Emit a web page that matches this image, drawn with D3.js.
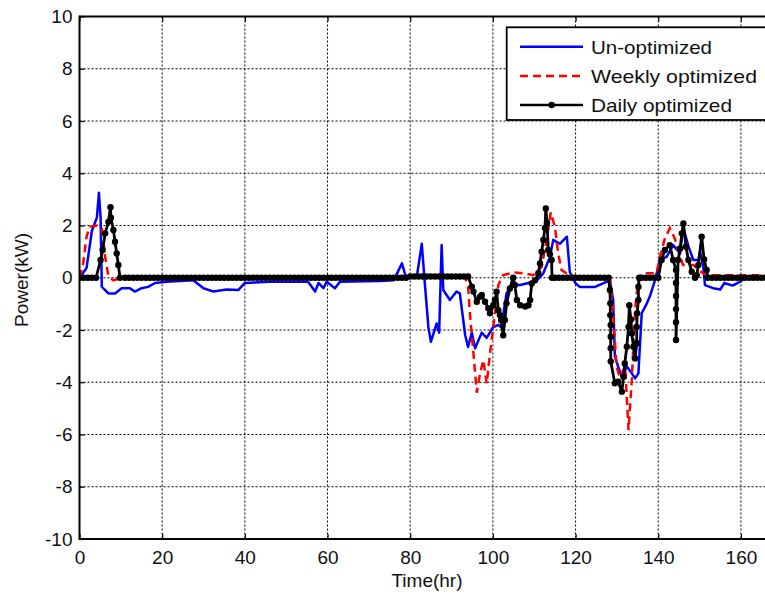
<!DOCTYPE html>
<html lang="en">
<head>
<meta charset="UTF-8">
<title>Power vs Time</title>
<script src="https://d3js.org/d3.v7.min.js"></script>
<style>
  body { margin: 0; background: #fff; }
  svg { display: block; font-family: "Liberation Sans", Arial, sans-serif; }
  .tick text { font-size: 19px; fill: #111; }
  .grid line { stroke: #000; stroke-width: 1; stroke-dasharray: 2,2; }
</style>
</head>
<body>
<svg id="chart" width="765" height="594"></svg>
<script>
// axis ticks
const xTicks = [0, 20, 40, 60, 80, 100, 120, 140, 160];
const yTicks = [-10, -8, -6, -4, -2, 0, 2, 4, 6, 8, 10];

// series names
const seriesNames = ["Un-optimized", "Weekly optimized", "Daily optimized"];

// Un-optimized: [hour, kW]
const unoptimized = [
  [0,0],[1.7,0.37],[3,1.8],[4.2,2.3],[4.7,3.25],[5.1,2.3],[5.4,-0.35],[7,-0.6],[8.6,-0.6],
  [10.2,-0.4],[12.2,-0.4],[13.4,-0.53],[15,-0.4],[16.6,-0.35],[18.3,-0.2],[21,-0.15],[27.5,-0.1],
  [30,-0.4],[32.4,-0.53],[35.6,-0.45],[38.4,-0.47],[40,-0.2],[46,-0.15],[55.3,-0.15],[57,-0.53],
  [57.8,-0.2],[59,-0.4],[59.8,-0.15],[61.8,-0.4],[63,-0.15],[72.7,-0.12],[76,-0.1],[78,0.55],
  [79,0],[81.6,0.05],[82.8,1.3],[83.6,-0.35],[84.4,-1.9],[85,-2.45],[86.4,-1.75],[87,-2.1],
  [87.6,1.25],[88,-0.47],[89.6,-0.85],[91.2,-0.53],[92,-0.6],[93.3,-2.2],[94,-2.65],[94.9,-2.1],
  [95.7,-2.7],[97.3,-2.1],[98.5,-2.3],[100,-1.9],[101.3,-1.8],[102,-1.9],[103.3,-0.6],[104.5,-0.28],
  [106.6,-0.28],[108.6,-0.2],[110.6,-0.1],[112.2,0.17],[113.8,0.8],[114.6,1.45],[116.2,1.3],
  [117.9,1.57],[118.6,0.22],[119.9,-0.2],[121,-0.35],[124.7,-0.35],[128.3,-0.1],[129.1,-0.85],
  [129.5,-3.0],[130.3,-3.4],[131.2,-3.8],[132.4,-3.4],[133.6,-3.66],[134.4,-3.85],[135.2,-3.66],
  [136,-1.36],[137.2,-1.0],[138,-0.7],[139.2,-0.1],[140.4,0.68],[142,0.8],[143.6,1.25],[145.3,0.93],
  [146,1.95],[147.3,1.2],[148.5,0.68],[149.7,0.68],[150.1,1.0],[150.9,0.42],[151.3,-0.28],
  [153.3,-0.4],[155,-0.45],[156,-0.2],[158,-0.3],[159.8,-0.15],[161.4,0.05],[168,0.05]
];

// Weekly optimized: [hour, kW]
const weekly = [
  [0,0],[0.9,0.55],[1.7,1.57],[2.5,1.95],[4.2,2.0],[5.4,1.9],[6.2,0.8],[7,0.05],[8.2,-0.1],[10,0],
  [93.3,0],[94,-0.35],[94.5,-1.5],[95.3,-2.9],[96.1,-4.4],[96.9,-3.66],[97.7,-3.15],[98.5,-4.05],
  [99.3,-2.9],[100.5,-1.36],[101.3,-0.28],[102.5,0.1],[105,0.2],[107.4,0.17],[109.8,0.1],
  [111.8,0.42],[113,1.45],[114,2.5],[115,1.95],[115.8,0.93],[116.6,0.3],[117.8,0.17],[120,0.05],
  [128.3,0.05],[129.1,-1.36],[129.9,-3.4],[130.7,-3.8],[132,-3.4],[132.8,-5.83],[133.6,-3.9],
  [134.4,-1.24],[135.2,0.05],[137.2,0.17],[139.6,0.17],[140.4,0.8],[141.6,1.5],[142.8,1.9],
  [144,1.5],[145.3,0.8],[146,0.49],[148.5,0.49],[149.7,0.3],[150.9,0.17],[153,0.1],[168,0.1]
];

// Daily optimized: [hour, kW]
const daily = [
  [0,0],[1,0],[2,0],[3,0],[4,0],[5.1,0.68],[5.6,1.06],[6.2,1.7],[7,2.14],[7.5,2.7],[7.6,2.3],
  [8.2,1.83],[8.6,1.38],[9,0.93],[9.4,0.49],[9.8,0],
  [11,0],[12,0],[13,0],[14,0],[15,0],[16,0],[17,0],[18,0],[19,0],[20,0],[21,0],[22,0],[23,0],
  [24,0],[25,0],[26,0],[27,0],[28,0],[29,0],[30,0],[31,0],[32,0],[33,0],[34,0],[35,0],[36,0],
  [37,0],[38,0],[39,0],[40,0],[41,0],[42,0],[43,0],[44,0],[45,0],[46,0],[47,0],[48,0],[49,0],
  [50,0],[51,0],[52,0],[53,0],[54,0],[55,0],[56,0],[57,0],[58,0],[59,0],[60,0],[61,0],[62,0],
  [63,0],[64,0],[65,0],[66,0],[67,0],[68,0],[69,0],[70,0],[71,0],[72,0],[73,0],[74,0],[75,0],
  [76,0],[77,0],[78,0],[79,0],[80,0.05],[81,0.05],[82,0.05],[83,0.05],[84,0.05],[85,0.05],
  [86,0.05],[87,0.05],[88,0.05],[89,0.05],[90,0.05],[91,0.05],[92,0.05],[93,0.05],[94,0.05],
  [94.9,-0.34],[95.3,-0.53],[96.1,-0.92],[96.9,-0.73],[97.3,-0.66],[98.1,-0.92],[98.9,-1.17],
  [99.3,-1.36],[100.1,-1.05],[100.5,-0.85],[100.9,-0.53],[101.3,-1.24],[101.7,-1.43],[102,-1.62],
  [102.5,-2.2],[102.9,-1.62],[103.3,-0.98],[104.1,-0.41],[104.9,0],[105.3,-0.28],[105.8,-0.85],
  [106.6,-1.05],[107.8,-1.1],[108.6,-1.05],[109,-0.85],[109.4,-0.22],[110.2,-0.1],[111,0.17],
  [111.4,0.55],[111.8,1.0],[112.2,1.45],[112.6,1.9],[112.8,2.65],[113.1,2.1],[113.4,1.06],
  [113.8,0.9],[114.2,0.68],[114.3,0],[115,0],[116,0],[117,0],[118,0],[119,0],[120,0],[121,0],
  [122,0],[123,0],[124,0],[125,0],[126,0],[127,0],[128,0],
  [128.3,-0.47],[128.4,-0.98],[128.4,-1.43],[128.5,-1.81],[128.5,-2.26],[128.5,-2.7],[128.5,-3.2],
  [129.5,-4.04],[130.3,-3.98],[131.2,-4.36],[131.6,-3.79],[131.9,-3.28],[132.4,-2.64],[132.8,-1.88],
  [133,-1.05],[133.4,-1.6],[133.6,-2.13],[134,-2.64],[134.4,-3.09],[134.8,-2.51],[134.8,-1.88],
  [134.9,-1.36],[135.2,-0.85],[135.2,-0.34],[135.4,0],[136,0],[137,0],[138,0],[139,0],[140,0],
  [140.8,0.68],[141.6,1.06],[142.8,1.25],[143.6,0.68],[144.3,0.3],[144.3,-0.2],[144.3,-0.7],
  [144.3,-1.2],[144.3,-1.7],[144.3,-2.38],[144.8,0.68],[145.3,1.12],[145.7,1.7],[146.1,2.08],
  [146.7,1.19],[147.3,0.68],[148.1,0.23],[148.9,0],[149.3,0.1],[149.7,0.49],[150.5,1.57],
  [151.1,0.7],[151.7,0.3],[152,0],[153,0],[154,0],[155,0],[156,0],[157,0],[158,0],[159,0],
  [160,0],[161,0],[162,0],[163,0],[164,0],[165,0],[166,0],[167,0]
];

const svg = d3.select("#chart");
const padL = 79.5, padT = 16.5, padB = 539, padR = 774;

const x = d3.scaleLinear().domain([0, 168]).range([padL, padR]);
const y = d3.scaleLinear().domain([-10, 10]).range([padB, padT]);

// grid
svg.append("g").attr("class", "grid")
  .selectAll("line").data(xTicks.filter(d => d > 0)).join("line")
  .attr("x1", d => x(d)).attr("x2", d => x(d))
  .attr("y1", padT).attr("y2", padB);
svg.append("g").attr("class", "grid")
  .selectAll("line").data(yTicks.filter(d => d > -10 && d < 10)).join("line")
  .attr("x1", padL).attr("x2", padR)
  .attr("y1", d => y(d)).attr("y2", d => y(d));

// clip for data
svg.append("clipPath").attr("id", "plotclip")
  .append("rect").attr("x", padL).attr("y", padT)
  .attr("width", padR - padL).attr("height", padB - padT);

const line = d3.line().x(d => x(d[0])).y(d => y(d[1]));
const plot = svg.append("g").attr("clip-path", "url(#plotclip)");

plot.append("path").datum(unoptimized)
  .attr("d", line).attr("fill", "none")
  .attr("stroke", "#0000ff").attr("stroke-width", 2.5).attr("stroke-linejoin", "round");

plot.append("path").datum(weekly)
  .attr("d", line).attr("fill", "none")
  .attr("stroke", "#ff0000").attr("stroke-width", 2.5)
  .attr("stroke-dasharray", "8,5");

plot.append("path").datum(daily)
  .attr("d", line).attr("fill", "none")
  .attr("stroke", "#000").attr("stroke-width", 2.8).attr("stroke-linejoin", "round");

plot.selectAll("circle").data(daily).join("circle")
  .attr("cx", d => x(d[0])).attr("cy", d => y(d[1]))
  .attr("r", 3.2).attr("fill", "#000");

// axes
const fmt = d => String(d);
const xAxis = svg.append("g").attr("transform", `translate(0,${padB})`)
  .call(d3.axisBottom(x).tickValues(xTicks).tickSize(-5).tickPadding(12).tickFormat(fmt));
const yAxis = svg.append("g").attr("transform", `translate(${padL},0)`)
  .call(d3.axisLeft(y).tickValues(yTicks).tickSize(-5).tickPadding(7).tickFormat(fmt));
const topAxis = svg.append("g").attr("transform", `translate(0,${padT})`)
  .call(d3.axisTop(x).tickValues(xTicks).tickSize(-5).tickFormat(""));

[xAxis, yAxis, topAxis].forEach(g => {
  g.select(".domain").remove();
  g.selectAll(".tick line").attr("stroke", "#000").attr("stroke-width", 1.2);
});

// frame lines
svg.append("line").attr("x1", padL).attr("x2", padL).attr("y1", padT - 1).attr("y2", padB + 1)
  .attr("stroke", "#000").attr("stroke-width", 2);
svg.append("line").attr("x1", padL).attr("x2", 765).attr("y1", padB).attr("y2", padB)
  .attr("stroke", "#000").attr("stroke-width", 2);
svg.append("line").attr("x1", padL).attr("x2", 765).attr("y1", padT).attr("y2", padT)
  .attr("stroke", "#000").attr("stroke-width", 2);

// axis labels
svg.append("text").attr("x", 427).attr("y", 587)
  .attr("text-anchor", "middle").attr("font-size", 19).attr("fill", "#111")
  .text("Time(hr)");
svg.append("text")
  .attr("transform", "translate(28,280) rotate(-90)")
  .attr("text-anchor", "middle").attr("font-size", 19).attr("fill", "#111")
  .text("Power(kW)");

// legend
const legend = svg.append("g");
legend.append("rect").attr("x", 506.7).attr("y", 27.3)
  .attr("width", 280).attr("height", 92.7)
  .attr("fill", "#fff").attr("stroke", "#000").attr("stroke-width", 1.8);

const legendRows = [46.7, 76, 105];
const legendWidths = [121, 166, 141];
const legendStyles = [
  { color: "#0000ff", dash: null },
  { color: "#ff0000", dash: "8,5" },
  { color: "#000", dash: null }
];
seriesNames.forEach((name, i) => {
  const cy = legendRows[i];
  legend.append("line").attr("x1", 520).attr("x2", 583)
    .attr("y1", cy).attr("y2", cy)
    .attr("stroke", legendStyles[i].color).attr("stroke-width", 2.5)
    .attr("stroke-dasharray", legendStyles[i].dash);
  if (i === 2) {
    legend.append("circle").attr("cx", 551.7).attr("cy", cy).attr("r", 3.2).attr("fill", "#000");
  }
  legend.append("text").attr("x", 591).attr("y", cy + 7)
    .attr("font-size", 19).attr("fill", "#111")
    .attr("textLength", legendWidths[i]).attr("lengthAdjust", "spacingAndGlyphs")
    .text(name);
});
</script>
</body>
</html>
